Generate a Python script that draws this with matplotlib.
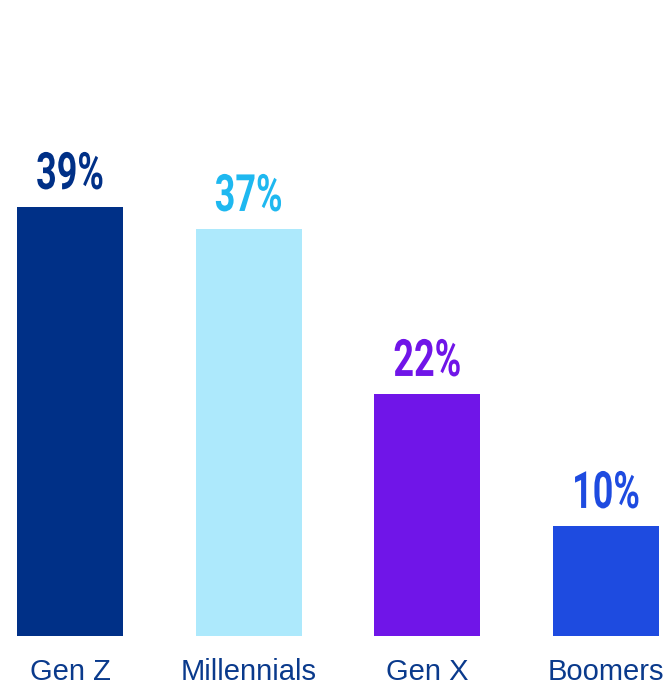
import matplotlib
matplotlib.use('Agg')
import matplotlib.pyplot as plt
import matplotlib.patheffects as pe
from matplotlib.transforms import Affine2D
import numpy as np

# share of each generation
generations = ['Gen Z', 'Millennials', 'Gen X', 'Boomers']
shares = [39, 37, 22, 10]
bar_colors = ['#003087', '#ADE9FC', '#7015E8', '#1E4BE0']
label_colors = ['#003087', '#1EB8F0', '#7015E8', '#1E4BE0']


class Squeeze(pe.AbstractPathEffect):
    # narrows glyphs horizontally around a fixed x (display pixels)
    def __init__(self, cx, sx):
        super().__init__()
        self.cx = cx
        self.sx = sx

    def draw_path(self, renderer, gc, tpath, affine, rgbFace=None):
        squeeze = Affine2D().translate(-self.cx, 0).scale(self.sx, 1).translate(self.cx, 0)
        renderer.draw_path(gc, tpath, affine + squeeze, rgbFace)


fig = plt.figure(figsize=(6.69, 6.85), dpi=100)
ax = fig.add_axes([0, 49 / 685, 1, 636 / 685])

x = np.arange(len(generations))
bars = ax.bar(x, shares, width=0.593, color=bar_colors)

ax.set_xlim(-70 / 178.67, 3 + 63 / 178.67)
ax.set_ylim(0, 636 / 11)
ax.set_xticks([])
ax.set_yticks([])
for s in ax.spines.values():
    s.set_visible(False)

# value labels above bars, condensed bold
for xi, val, col in zip(x, shares, label_colors):
    cx = ax.transData.transform((xi, 0))[0]
    ax.text(xi, val + 1.64, '%d%%' % val,
            ha='center', va='baseline', fontsize=37, fontweight='bold',
            color=col, family=['Roboto', 'DejaVu Sans'],
            path_effects=[Squeeze(cx, 0.7)])

# category names under the bars
for xi, name in zip(x, generations):
    ax.text(xi, -(680 - 636) / 636, name, transform=ax.get_xaxis_transform(),
            ha='center', va='baseline', fontsize=21, color='#0A3A8C',
            family=['Liberation Sans', 'DejaVu Sans'])

fig.savefig('out.png', dpi=100)
